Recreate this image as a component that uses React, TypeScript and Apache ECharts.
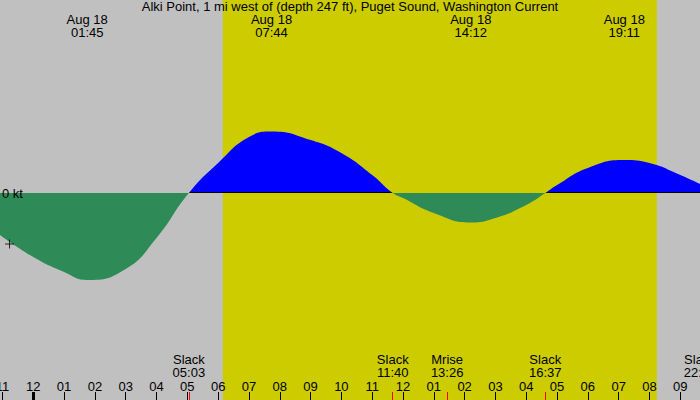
import { useEffect, useRef } from 'react';
import * as echarts from 'echarts';

const FONT = '"Liberation Sans", Arial, sans-serif';
const chartTitle = 'Alki Point, 1 mi west of (depth 247 ft), Puget Sound, Washington Current';

// hours after midnight Aug 18 (negative = late Aug 17)
const hours = [-1.08, 0, 1, 1.75, 3, 4, 5.05, 6, 7, 7.733, 9, 10, 11, 11.667, 12, 13, 14.2, 15, 16, 16.617, 17, 18, 19.183, 20, 21, 21.64];
// current speed, knots (flood +, ebb -)
const knots = [-0.42, -0.64, -0.79, -0.87, -0.76, -0.45, 0, 0.3, 0.56, 0.615, 0.53, 0.4, 0.18, 0, -0.05, -0.2, -0.295, -0.25, -0.12, 0, 0.08, 0.25, 0.33, 0.3, 0.18, 0.09];

const hourTicks = [-1, 0, 1, 2, 3, 4, 5, 6, 7, 8, 9, 10, 11, 12, 13, 14, 15, 16, 17, 18, 19, 20, 21];
const hourLabels = ['11', '12', '01', '02', '03', '04', '05', '06', '07', '08', '09', '10', '11', '12', '01', '02', '03', '04', '05', '06', '07', '08', '09'];
const midnight = [0];

const peakTimes = [1.75, 7.733, 14.2, 19.183];
const peakLabels = ['Aug 18\n01:45', 'Aug 18\n07:44', 'Aug 18\n14:12', 'Aug 18\n19:11'];

const eventTimes = [5.05, 11.667, 13.433, 16.617, 21.64];
const eventLabels = ['Slack\n05:03', 'Slack\n11:40', 'Mrise\n13:26', 'Slack\n16:37', 'Slack\n22:00'];

const daylight = [6.15, 20.24];
const nowMark = [-0.77, -0.51];

const X_MIN = -1.08;
const X_MAX = 21.64;
const Y_MIN = -2.07;
const Y_MAX = 1.93;

const lookup = (times: number[], labels: string[]) => (v: number) =>
  labels[times.findIndex((t) => Math.abs(t - v) < 1e-6)] ?? '';

const App = () => {
  const chartRef = useRef<HTMLDivElement>(null);

  useEffect(() => {
    document.body.style.margin = '0';
    if (!chartRef.current) return;
    const myChart = echarts.init(chartRef.current, undefined, { renderer: 'svg' });

    const curve = hours.map((h, i) => [h, knots[i]]);
    // 0 kt position as a fraction of the plot height (grid fills the chart)
    const zeroAt = Y_MAX / (Y_MAX - Y_MIN);
    const chartH = 400;
    const px = 1 / chartH;
    const clear = 'rgba(0,0,0,0)';
    // blue above zero with a 1px black rule along the bottom of the flood area
    const floodFill = new echarts.graphic.LinearGradient(0, 0, 0, chartH, [
      { offset: 0, color: '#0000ff' },
      { offset: zeroAt - px, color: '#0000ff' },
      { offset: zeroAt - px, color: '#000000' },
      { offset: zeroAt, color: '#000000' },
      { offset: zeroAt, color: clear },
      { offset: 1, color: clear },
    ], true);
    const ebbFill = new echarts.graphic.LinearGradient(0, 0, 0, chartH, [
      { offset: 0, color: clear },
      { offset: zeroAt, color: clear },
      { offset: zeroAt, color: '#2e8b57' },
      { offset: 1, color: '#2e8b57' },
    ], true);

    const xCommon = {
      type: 'value' as const,
      min: X_MIN,
      max: X_MAX,
      z: 10,
      axisLine: { show: false, onZero: false },
      splitLine: { show: false },
    };
    const yCommon = {
      type: 'value' as const,
      min: Y_MIN,
      max: Y_MAX,
      splitLine: { show: false },
    };
    const labelStyle = { color: '#000', fontSize: 13, fontFamily: FONT };
    const gridBox = { left: 0, right: 0, top: 0, bottom: 0, containLabel: false, outerBoundsMode: 'none' };

    const option: any = {
      animation: false,
      backgroundColor: '#c0c0c0',
      textStyle: { fontFamily: FONT },
      title: {
        text: chartTitle,
        left: 'center',
        top: 0,
        padding: 0,
        textStyle: { fontSize: 13, lineHeight: 13, fontWeight: 'normal', color: '#000', fontFamily: FONT },
      },
      grid: [gridBox, gridBox, gridBox],
      xAxis: [
        {
          ...xCommon,
          gridIndex: 0,
          position: 'bottom',
          axisTick: { show: true, inside: true, length: 8, customValues: hourTicks, lineStyle: { color: '#000', width: 1 } },
          axisLabel: {
            ...labelStyle,
            inside: true,
            margin: 8,
            lineHeight: 12,
            customValues: hourTicks,
            formatter: lookup(hourTicks, hourLabels),
          },
        },
        {
          ...xCommon,
          gridIndex: 0,
          position: 'top',
          axisTick: { show: false, customValues: peakTimes },
          axisLabel: {
            ...labelStyle,
            inside: true,
            margin: 13,
            lineHeight: 13,
            customValues: peakTimes,
            formatter: lookup(peakTimes, peakLabels),
          },
        },
        {
          ...xCommon,
          gridIndex: 1,
          position: 'bottom',
          axisTick: { show: true, inside: true, length: 8, customValues: midnight, lineStyle: { color: '#000', width: 3 } },
          axisLabel: { show: false, customValues: midnight },
        },
        {
          ...xCommon,
          gridIndex: 2,
          position: 'bottom',
          axisTick: { show: true, inside: true, length: 8, customValues: eventTimes, lineStyle: { color: '#ff0000', width: 1 } },
          axisLabel: {
            ...labelStyle,
            inside: true,
            margin: 21,
            lineHeight: 13,
            customValues: eventTimes,
            formatter: lookup(eventTimes, eventLabels),
          },
        },
      ],
      yAxis: [
        {
          ...yCommon,
          gridIndex: 0,
          z: 10,
          axisLine: { show: false },
          axisTick: { show: false, customValues: [0] },
          axisLabel: {
            ...labelStyle,
            inside: true,
            margin: 2,
            customValues: [0],
            formatter: (v: number) => `${v} kt`,
          },
        },
        { ...yCommon, gridIndex: 1, show: false },
        { ...yCommon, gridIndex: 2, show: false },
      ],
      series: [
        {
          name: 'daylight',
          type: 'line',
          xAxisIndex: 0,
          yAxisIndex: 0,
          z: 1,
          data: [[X_MIN, 0], [X_MAX, 0]],
          symbol: 'none',
          lineStyle: { width: 0 },
          silent: true,
          markArea: {
            silent: true,
            itemStyle: { color: '#cccc00', opacity: 1 },
            data: [[{ xAxis: daylight[0] }, { xAxis: daylight[1] }]],
          },
        },
        {
          name: 'flood',
          type: 'line',
          xAxisIndex: 0,
          yAxisIndex: 0,
          z: 2,
          data: curve,
          smooth: 0.5,
          symbol: 'none',
          lineStyle: { width: 0 },
          areaStyle: { color: floodFill, opacity: 1 },
          silent: true,
        },
        {
          name: 'ebb',
          type: 'line',
          xAxisIndex: 0,
          yAxisIndex: 0,
          z: 3,
          data: curve,
          smooth: 0.5,
          symbol: 'none',
          lineStyle: { width: 0 },
          areaStyle: { color: ebbFill, opacity: 1 },
          silent: true,
        },
        {
          name: 'mark',
          type: 'scatter',
          xAxisIndex: 0,
          yAxisIndex: 0,
          z: 4,
          data: [nowMark],
          symbol: 'path://M0,5L10,5M5,0L5,10',
          symbolSize: 9,
          itemStyle: { color: clear, borderColor: '#000', borderWidth: 1 },
          silent: true,
        },
      ],
    };

    myChart.setOption(option);

    return () => {
      myChart.dispose();
    };
  }, []);

  return <div ref={chartRef} style={{ width: '700px', height: '400px' }} />;
};

export default App;
